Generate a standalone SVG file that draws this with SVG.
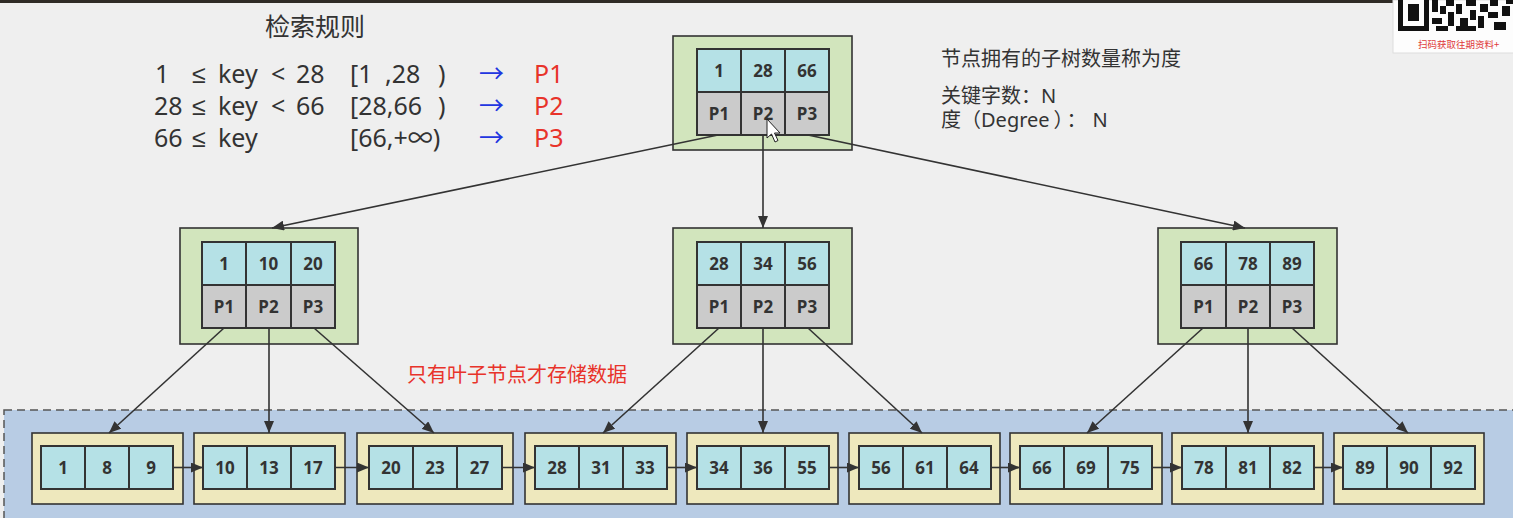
<svg xmlns="http://www.w3.org/2000/svg" width="1513" height="518" viewBox="0 0 1513 518">
<defs>
<style>
.t{font-family:"Noto Sans","Noto Sans CJK SC",sans-serif;fill:#333}
.m{font-family:"Liberation Sans","DejaVu Sans",sans-serif}
.c{font-family:"Noto Sans","Noto Sans CJK SC",sans-serif;font-weight:bold;font-size:17px;fill:#333;text-anchor:middle}
.outer{fill:#d2e5bd;stroke:#333;stroke-width:1.6}
.leafo{fill:#eee8bd;stroke:#333;stroke-width:1.6}
.k{fill:#b5e1e6;stroke:#333;stroke-width:2}
.p{fill:#cbcbcb;stroke:#333;stroke-width:2}
.ln{stroke:#333;stroke-width:1.6;fill:none;marker-end:url(#ah)}
.blue{fill:#2236e0}
.red{fill:#e8332a}
</style>
<marker id="ah" markerWidth="12" markerHeight="10" refX="12" refY="5" orient="auto" markerUnits="userSpaceOnUse">
<path d="M0,0 L12,5 L0,10 z" fill="#333"/>
</marker>
</defs>
<rect x="0" y="0" width="1513" height="518" fill="#efefef"/>
<rect x="0" y="0" width="1513" height="3" fill="#2f2b26"/>

<!-- leaf region -->
<rect id="leafRegion" x="4" y="410" width="1530" height="130" fill="#b8cce4" stroke="#555" stroke-width="1.5" stroke-dasharray="8,5"/>

<!-- texts -->
<g id="rules">
<text class="t" x="265" y="36" font-size="25">检索规则</text>
<g font-size="25">
<text class="t" x="155" y="83">1</text><text class="t m" x="192" y="83">≤</text><text class="t" x="218" y="83">key</text><text class="t" x="271" y="83">&lt;</text><text class="t" x="296" y="83">28</text>
<text class="t" x="350" y="83">[1</text><text class="t" x="385" y="83">,28</text><text class="t" x="438" y="83">)</text>
<text class="t blue" x="479" y="83">→</text><text class="t red" x="534" y="83">P1</text>
<text class="t" x="154" y="115">28</text><text class="t m" x="192" y="115">≤</text><text class="t" x="218" y="115">key</text><text class="t" x="271" y="115">&lt;</text><text class="t" x="296" y="115">66</text>
<text class="t" x="350" y="115">[28,66</text><text class="t" x="438" y="115">)</text>
<text class="t blue" x="479" y="115">→</text><text class="t red" x="534" y="115">P2</text>
<text class="t" x="154" y="147">66</text><text class="t m" x="192" y="147">≤</text><text class="t" x="218" y="147">key</text>
<text class="t" x="350" y="147">[66,+∞)</text>
<text class="t blue" x="479" y="147">→</text><text class="t red" x="534" y="147">P3</text>
</g>
</g>
<g id="notes">
<text class="t" x="941" y="66" font-size="20">节点拥有的子树数量称为度</text>
<text class="t" x="941" y="103" font-size="20">关键字数：N</text>
<text class="t" x="941" y="127" font-size="20">度（Degree<tspan dx="4">）</tspan><tspan dx="3">：</tspan><tspan dx="6">N</tspan></text>
</g>
<text id="leafNote" class="t red" x="407" y="382" font-size="20">只有叶子节点才存储数据</text>

<!-- QR fragment -->
<g id="qr">
<rect x="1393" y="0" width="125" height="53" fill="#fdfdfd" stroke="#ddd"/>
<rect x="1398" y="0" width="31" height="31" fill="#111"/>
<rect x="1403" y="0" width="21" height="26" fill="#fdfdfd"/>
<rect x="1408" y="4" width="11" height="17" fill="#111"/>
<rect x="1432" y="0" width="6" height="12" fill="#111"/>
<rect x="1432" y="18" width="10" height="6" fill="#111"/>
<rect x="1440" y="6" width="6" height="8" fill="#111"/>
<rect x="1446" y="0" width="8" height="6" fill="#111"/>
<rect x="1448" y="12" width="6" height="14" fill="#111"/>
<rect x="1436" y="26" width="12" height="5" fill="#111"/>
<rect x="1456" y="4" width="6" height="10" fill="#111"/>
<rect x="1460" y="18" width="8" height="8" fill="#111"/>
<rect x="1466" y="0" width="10" height="6" fill="#111"/>
<rect x="1470" y="10" width="6" height="10" fill="#111"/>
<rect x="1456" y="26" width="20" height="5" fill="#111"/>
<rect x="1480" y="4" width="8" height="8" fill="#111"/>
<rect x="1478" y="16" width="6" height="12" fill="#111"/>
<rect x="1490" y="0" width="8" height="6" fill="#111"/>
<rect x="1488" y="12" width="10" height="6" fill="#111"/>
<rect x="1494" y="22" width="12" height="8" fill="#111"/>
<rect x="1502" y="6" width="8" height="10" fill="#111"/>
<rect x="1506" y="0" width="7" height="4" fill="#111"/>
<text x="1418" y="48" font-size="9.5" font-family="Noto Sans CJK SC,sans-serif" fill="#e03a3a">扫码获取往期资料+</text>
</g>

<!-- internal nodes -->
<g id="root">
<rect class="outer" x="673" y="36" width="179" height="114"/>
<rect class="k" x="697" y="49" width="44" height="43"/><rect class="k" x="741" y="49" width="44" height="43"/><rect class="k" x="785" y="49" width="44" height="43"/>
<rect class="p" x="697" y="92" width="44" height="43"/><rect class="p" x="741" y="92" width="44" height="43"/><rect class="p" x="785" y="92" width="44" height="43"/>
<text class="c" x="719" y="77">1</text><text class="c" x="763" y="77">28</text><text class="c" x="807" y="77">66</text>
<text class="c" x="719" y="120">P1</text><text class="c" x="763" y="120">P2</text><text class="c" x="807" y="120">P3</text>
</g>
<g id="n_left">
<rect class="outer" x="180" y="228" width="178" height="116"/>
<rect class="k" x="202" y="242" width="44" height="43"/><rect class="k" x="246" y="242" width="45" height="43"/><rect class="k" x="291" y="242" width="44" height="43"/>
<rect class="p" x="202" y="285" width="44" height="43"/><rect class="p" x="246" y="285" width="45" height="43"/><rect class="p" x="291" y="285" width="44" height="43"/>
<text class="c" x="224" y="270">1</text><text class="c" x="268.5" y="270">10</text><text class="c" x="313" y="270">20</text>
<text class="c" x="224" y="313">P1</text><text class="c" x="268.5" y="313">P2</text><text class="c" x="313" y="313">P3</text>
</g>
<g id="n_mid">
<rect class="outer" x="673" y="228" width="179" height="116"/>
<rect class="k" x="697" y="242" width="44" height="43"/><rect class="k" x="741" y="242" width="44" height="43"/><rect class="k" x="785" y="242" width="44" height="43"/>
<rect class="p" x="697" y="285" width="44" height="43"/><rect class="p" x="741" y="285" width="44" height="43"/><rect class="p" x="785" y="285" width="44" height="43"/>
<text class="c" x="719" y="270">28</text><text class="c" x="763" y="270">34</text><text class="c" x="807" y="270">56</text>
<text class="c" x="719" y="313">P1</text><text class="c" x="763" y="313">P2</text><text class="c" x="807" y="313">P3</text>
</g>
<g id="n_right">
<rect class="outer" x="1158" y="228" width="179" height="116"/>
<rect class="k" x="1181" y="242" width="45" height="43"/><rect class="k" x="1226" y="242" width="44" height="43"/><rect class="k" x="1270" y="242" width="44" height="43"/>
<rect class="p" x="1181" y="285" width="45" height="43"/><rect class="p" x="1226" y="285" width="44" height="43"/><rect class="p" x="1270" y="285" width="44" height="43"/>
<text class="c" x="1203.5" y="270">66</text><text class="c" x="1248" y="270">78</text><text class="c" x="1292" y="270">89</text>
<text class="c" x="1203.5" y="313">P1</text><text class="c" x="1248" y="313">P2</text><text class="c" x="1292" y="313">P3</text>
</g>

<!-- leaves -->
<g id="leaf1"><rect class="leafo" x="32" y="433" width="151" height="71"/>
<rect class="k" x="41" y="446" width="44" height="43"/><rect class="k" x="85" y="446" width="44" height="43"/><rect class="k" x="129" y="446" width="44" height="43"/>
<text class="c" x="63" y="474">1</text><text class="c" x="107" y="474">8</text><text class="c" x="151" y="474">9</text></g>
<g id="leaf2"><rect class="leafo" x="194" y="433" width="151" height="71"/>
<rect class="k" x="203" y="446" width="44" height="43"/><rect class="k" x="247" y="446" width="44" height="43"/><rect class="k" x="291" y="446" width="44" height="43"/>
<text class="c" x="225" y="474">10</text><text class="c" x="269" y="474">13</text><text class="c" x="313" y="474">17</text></g>
<g id="leaf3"><rect class="leafo" x="357" y="433" width="156" height="71"/>
<rect class="k" x="369" y="446" width="44" height="43"/><rect class="k" x="413" y="446" width="44" height="43"/><rect class="k" x="457" y="446" width="45" height="43"/>
<text class="c" x="391" y="474">20</text><text class="c" x="435" y="474">23</text><text class="c" x="479.5" y="474">27</text></g>
<g id="leaf4"><rect class="leafo" x="525" y="433" width="151" height="71"/>
<rect class="k" x="535" y="446" width="44" height="43"/><rect class="k" x="579" y="446" width="44" height="43"/><rect class="k" x="623" y="446" width="44" height="43"/>
<text class="c" x="557" y="474">28</text><text class="c" x="601" y="474">31</text><text class="c" x="645" y="474">33</text></g>
<g id="leaf5"><rect class="leafo" x="687" y="433" width="151" height="71"/>
<rect class="k" x="697" y="446" width="44" height="43"/><rect class="k" x="741" y="446" width="44" height="43"/><rect class="k" x="785" y="446" width="44" height="43"/>
<text class="c" x="719" y="474">34</text><text class="c" x="763" y="474">36</text><text class="c" x="807" y="474">55</text></g>
<g id="leaf6"><rect class="leafo" x="849" y="433" width="151" height="71"/>
<rect class="k" x="859" y="446" width="44" height="43"/><rect class="k" x="903" y="446" width="44" height="43"/><rect class="k" x="947" y="446" width="44" height="43"/>
<text class="c" x="881" y="474">56</text><text class="c" x="925" y="474">61</text><text class="c" x="969" y="474">64</text></g>
<g id="leaf7"><rect class="leafo" x="1010" y="433" width="152" height="71"/>
<rect class="k" x="1020" y="446" width="44" height="43"/><rect class="k" x="1064" y="446" width="44" height="43"/><rect class="k" x="1108" y="446" width="44" height="43"/>
<text class="c" x="1042" y="474">66</text><text class="c" x="1086" y="474">69</text><text class="c" x="1130" y="474">75</text></g>
<g id="leaf8"><rect class="leafo" x="1172" y="433" width="151" height="71"/>
<rect class="k" x="1182" y="446" width="44" height="43"/><rect class="k" x="1226" y="446" width="44" height="43"/><rect class="k" x="1270" y="446" width="44" height="43"/>
<text class="c" x="1204" y="474">78</text><text class="c" x="1248" y="474">81</text><text class="c" x="1292" y="474">82</text></g>
<g id="leaf9"><rect class="leafo" x="1334" y="433" width="150" height="71"/>
<rect class="k" x="1343" y="446" width="44" height="43"/><rect class="k" x="1387" y="446" width="44" height="43"/><rect class="k" x="1431" y="446" width="44" height="43"/>
<text class="c" x="1365" y="474">89</text><text class="c" x="1409" y="474">90</text><text class="c" x="1453" y="474">92</text></g>

<!-- connectors -->
<g id="connectors">
<line class="ln" x1="718" y1="135" x2="272" y2="228"/>
<line class="ln" x1="763" y1="135" x2="763" y2="228"/>
<line class="ln" x1="808" y1="135" x2="1245" y2="228"/>
<line class="ln" x1="224" y1="328" x2="109" y2="433"/>
<line class="ln" x1="269" y1="328" x2="269" y2="433"/>
<line class="ln" x1="314" y1="328" x2="434" y2="433"/>
<line class="ln" x1="719" y1="328" x2="603" y2="433"/>
<line class="ln" x1="763" y1="328" x2="763" y2="433"/>
<line class="ln" x1="808" y1="328" x2="922" y2="433"/>
<line class="ln" x1="1203" y1="328" x2="1087" y2="433"/>
<line class="ln" x1="1248" y1="328" x2="1248" y2="433"/>
<line class="ln" x1="1292" y1="328" x2="1408" y2="433"/>
<line class="ln" x1="173" y1="467.5" x2="203" y2="467.5"/>
<line class="ln" x1="335" y1="467.5" x2="369" y2="467.5"/>
<line class="ln" x1="502" y1="467.5" x2="535" y2="467.5"/>
<line class="ln" x1="667" y1="467.5" x2="697" y2="467.5"/>
<line class="ln" x1="829" y1="467.5" x2="859" y2="467.5"/>
<line class="ln" x1="991" y1="467.5" x2="1020" y2="467.5"/>
<line class="ln" x1="1152" y1="467.5" x2="1182" y2="467.5"/>
<line class="ln" x1="1314" y1="467.5" x2="1343" y2="467.5"/>
</g>

<!-- mouse cursor -->
<path id="cursor" d="M767,119 L767,138 L771.5,134 L775,142 L778,140.5 L774.5,133 L780,133 Z" fill="#fff" stroke="#222" stroke-width="1"/>
</svg>
